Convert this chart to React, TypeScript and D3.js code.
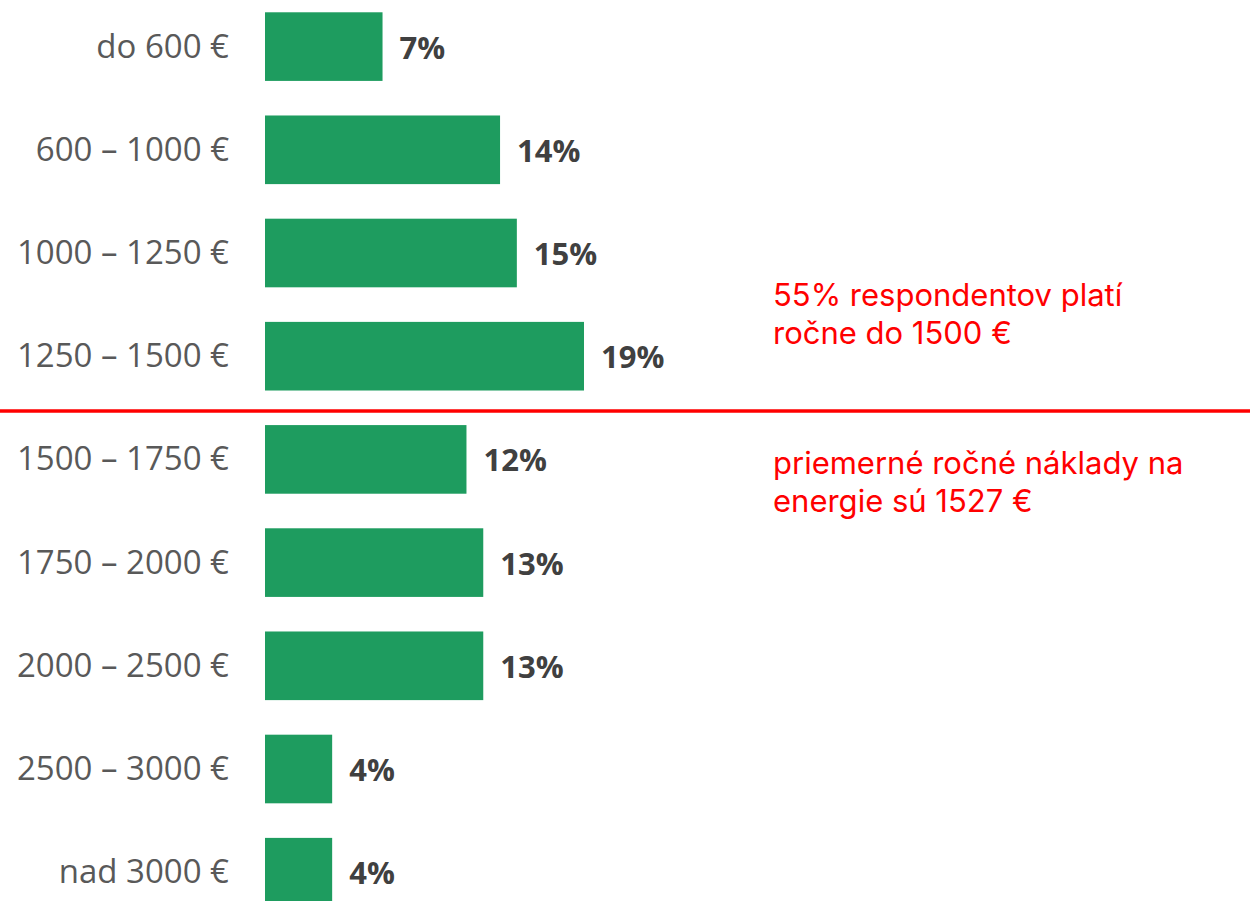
import React from "react";
import * as d3 from "d3";

const categories = [
  "do 600 €",
  "600 – 1000 €",
  "1000 – 1250 €",
  "1250 – 1500 €",
  "1500 – 1750 €",
  "1750 – 2000 €",
  "2000 – 2500 €",
  "2500 – 3000 €",
  "nad 3000 €",
];
const values = [7, 14, 15, 19, 12, 13, 13, 4, 4];
const noteTop = ["55% respondentov platí", "ročne do 1500 €"];
const noteBottom = ["priemerné ročné náklady na", "energie sú 1527 €"];

const W = 1250;
const H = 901;

export default function App() {
  const x = d3.scaleLinear().domain([0, 19]).range([265, 584]);
  const y = d3
    .scaleBand<string>()
    .domain(categories)
    .range([-5, 923.8])
    .paddingInner(0.335)
    .paddingOuter(0.1675);
  const bw = y.bandwidth();
  const lineY = (y(categories[4]) as number) - 14;
  const data = categories.map((c, i) => ({ c, v: values[i] }));

  return (
    <svg
      width={W}
      height={H}
      style={{ position: "absolute", left: 0, top: 0, display: "block", background: "#fff" }}
    >
      {data.map((d) => {
        const yy = y(d.c) as number;
        const cy = yy + bw / 2;
        return (
          <g key={d.c}>
            <rect x={x(0)} y={yy} width={x(d.v) - x(0)} height={bw} fill="#1e9c5f" />
            <text
              x={229}
              y={cy + 11}
              textAnchor="end"
              fontFamily="'Open Sans', sans-serif"
              fontSize={33}
              fill="#595959"
            >
              {d.c}
            </text>
            <text
              x={x(d.v) + 17}
              y={cy + 12}
              fontFamily="'Open Sans', sans-serif"
              fontWeight={700}
              fontSize={31}
              fill="#404040"
            >
              {d.v + "%"}
            </text>
          </g>
        );
      })}
      <line x1={0} x2={W} y1={lineY} y2={lineY} stroke="#ff0000" strokeWidth={3.5} />
      {noteTop.map((t, i) => (
        <text
          key={"t" + i}
          x={773}
          y={306 + i * 37.5}
          fontFamily="Inter, sans-serif"
          fontSize={31}
          fill="#ff0000"
        >
          {t}
        </text>
      ))}
      {noteBottom.map((t, i) => (
        <text
          key={"b" + i}
          x={773}
          y={474 + i * 38}
          fontFamily="Inter, sans-serif"
          fontSize={31}
          fill="#ff0000"
        >
          {t}
        </text>
      ))}
    </svg>
  );
}
